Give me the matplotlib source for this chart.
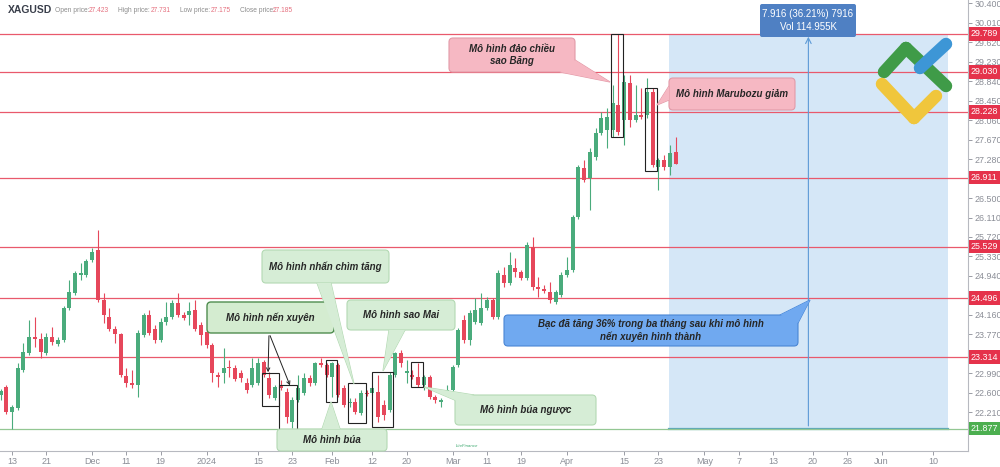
import numpy as np
import matplotlib.pyplot as plt
from matplotlib.patches import Rectangle, FancyBboxPatch, Polygon

plt.rcParams['font.family'] = ['Liberation Sans', 'DejaVu Sans']

# Nến ngày XAGUSD, chỉ số 0 = 13/11/2023 (bỏ cuối tuần)
idx = np.arange(-2, 117)
opens = [22.55, 22.71, 22.21, 22.29, 23.05, 23.40, 23.72, 23.68, 23.40, 23.72,
         23.58, 23.66, 24.30, 24.60, 24.96, 24.96, 25.26, 25.46, 24.46, 24.12,
         23.88, 23.78, 22.93, 22.79, 22.75, 23.76, 24.16, 23.88, 23.66, 24.02,
         24.12, 24.40, 24.16, 24.16, 24.26, 23.96, 23.82, 23.56, 22.95, 23.00,
         23.11, 23.09, 23.00, 22.79, 22.75, 22.79, 23.21, 22.89, 22.49, 22.73,
         22.61, 22.01, 22.45, 22.59, 22.89, 22.79, 23.19, 23.15, 22.91, 23.15,
         22.69, 22.39, 22.41, 22.19, 22.59, 22.59, 22.61, 22.35, 22.25, 22.95,
         23.40, 23.00, 22.95, 22.91, 22.75, 22.91, 22.51, 22.41, 22.61, 22.65,
         23.15, 24.06, 23.66, 24.02, 24.00, 24.30, 24.46, 24.12, 24.96, 24.80,
         25.10, 25.02, 24.90, 25.52, 24.72, 24.68, 24.62, 24.42, 24.56, 24.96,
         25.06, 26.12, 27.10, 26.90, 27.32, 27.80, 27.86, 27.86, 28.37, 28.06,
         28.81, 28.06, 28.16, 28.16, 28.63, 27.12, 27.26, 27.12, 27.423]
highs = [22.68, 22.75, 22.35, 23.19, 23.60, 24.06, 24.12, 23.80, 23.80, 23.92,
         23.72, 24.34, 24.86, 25.04, 25.20, 25.28, 25.50, 25.86, 24.60, 24.30,
         23.94, 23.80, 23.09, 23.05, 23.86, 24.20, 24.26, 23.96, 24.10, 24.42,
         24.46, 24.60, 24.22, 24.42, 24.46, 24.02, 23.88, 23.60, 23.01, 23.50,
         23.25, 23.15, 23.05, 22.89, 23.29, 23.29, 23.25, 23.01, 22.75, 22.85,
         22.69, 22.51, 22.95, 23.00, 22.95, 23.21, 23.29, 23.19, 23.21, 23.19,
         22.75, 22.49, 22.49, 22.65, 22.65, 22.73, 22.95, 22.45, 23.01, 23.42,
         23.46, 23.25, 23.05, 23.19, 22.95, 22.95, 22.55, 22.49, 22.75, 23.15,
         23.90, 24.16, 24.26, 24.50, 24.60, 24.52, 24.50, 25.06, 25.12, 25.42,
         25.30, 25.06, 25.62, 25.72, 24.92, 24.76, 24.82, 24.66, 25.02, 25.32,
         26.16, 27.16, 27.26, 27.50, 27.90, 28.22, 28.30, 28.77, 29.79, 28.97,
         28.97, 28.77, 28.71, 28.91, 28.71, 27.30, 27.36, 27.56, 27.731]
lows = [22.45, 22.17, 21.88, 22.25, 23.01, 23.36, 23.52, 23.30, 23.36, 23.56,
        23.54, 23.62, 24.26, 24.56, 24.86, 24.92, 25.22, 24.42, 24.00, 23.84,
        23.60, 22.91, 22.71, 22.69, 22.51, 23.72, 23.76, 23.60, 23.62, 23.96,
        24.08, 24.12, 24.06, 23.96, 23.84, 23.56, 23.50, 22.81, 22.71, 22.79,
        22.91, 22.83, 22.81, 22.59, 22.71, 22.75, 22.91, 22.49, 22.45, 22.65,
        21.99, 21.89, 22.41, 22.55, 22.73, 22.75, 23.11, 22.91, 22.51, 22.51,
        22.31, 22.31, 22.17, 22.15, 22.53, 22.55, 22.01, 22.05, 22.21, 22.91,
        23.11, 22.79, 22.87, 22.71, 22.65, 22.47, 22.39, 22.31, 22.55, 22.61,
        23.11, 23.60, 23.56, 23.98, 23.96, 24.26, 24.08, 24.08, 24.72, 24.76,
        24.92, 24.86, 24.86, 24.66, 24.52, 24.60, 24.40, 24.38, 24.52, 24.92,
        25.02, 26.08, 26.82, 26.26, 27.26, 27.76, 27.50, 27.72, 27.76, 27.56,
        27.92, 28.02, 28.08, 28.10, 27.12, 26.66, 27.06, 26.96, 27.175]
closes = [22.63, 22.21, 22.31, 23.09, 23.42, 23.72, 23.68, 23.42, 23.72, 23.62,
          23.66, 24.30, 24.62, 25.00, 25.00, 25.24, 25.42, 24.46, 24.16, 23.88,
          23.78, 22.95, 22.79, 22.75, 23.80, 24.16, 23.80, 23.66, 24.02, 24.12,
          24.40, 24.16, 24.10, 24.24, 23.88, 23.76, 23.56, 23.00, 22.91, 23.09,
          23.09, 22.87, 22.89, 22.65, 23.09, 23.19, 22.95, 22.55, 22.71, 22.69,
          22.11, 22.45, 22.69, 22.89, 22.79, 23.19, 23.15, 22.95, 23.19, 22.55,
          22.35, 22.41, 22.21, 22.59, 22.57, 22.69, 22.11, 22.15, 22.95, 23.40,
          23.19, 23.03, 22.91, 22.75, 22.91, 22.51, 22.45, 22.45, 22.65, 23.11,
          23.86, 23.66, 24.20, 24.26, 24.30, 24.46, 24.12, 25.00, 24.80, 25.16,
          25.02, 24.90, 25.56, 24.72, 24.68, 24.64, 24.46, 24.62, 24.96, 25.06,
          26.12, 27.12, 26.86, 27.42, 27.80, 28.10, 28.12, 28.41, 27.82, 28.83,
          28.06, 28.16, 28.12, 28.63, 27.16, 27.26, 27.12, 27.40, 27.185]

# nhãn trục thời gian
tick_idx = [0, 6, 14, 20, 26, 34, 43, 49, 56, 63, 69, 77, 83, 89, 97, 107, 113,
            121, 127, 133, 140, 146, 152, 161]
tick_lab = ['13', '21', 'Dec', '11', '19', '2024', '15', '23', 'Feb', '12', '20',
            'Mar', '11', '19', 'Apr', '15', '23', 'May', '7', '13', '20', '26',
            'Jun', '10']

# thang giá bên phải (các nhãn bị che bởi nhãn mức giá được bỏ)
price_ticks = [22.21, 22.60, 22.99, 23.77, 24.16, 24.94, 25.33, 25.72, 26.11,
               26.50, 27.28, 27.67, 28.06, 28.45, 28.84, 29.23, 29.62, 30.01, 30.40]

# các mức hỗ trợ / kháng cự
levels_red = [29.789, 29.030, 28.228, 26.911, 25.529, 24.496, 23.314]
level_green = 21.877

# hộp đánh dấu mô hình nến: (x0, x1, giá thấp, giá cao)
pattern_boxes = [(43.7, 46.7, 22.33, 22.99), (46.7, 49.8, 21.85, 22.75),
                 (54.9, 56.8, 22.41, 23.25), (58.7, 61.9, 21.99, 22.79),
                 (62.9, 66.6, 21.91, 23.01), (69.8, 71.9, 22.71, 23.21),
                 (104.7, 106.8, 27.72, 29.79), (110.7, 112.8, 27.04, 28.71)]

UP = '#4aab7c'
DOWN = '#e6475b'
LINE_RED = '#e9596c'
GREY = '#8a8d96'

fig = plt.figure(figsize=(10, 4.67), dpi=100)
ax = fig.add_axes([0, 16 / 467, 0.968, 451 / 467])
ax.set_xlim(-2.1, 167.1)
ax.set_ylim(21.43, 30.47)

# vùng dự phóng màu xanh
ax.add_patch(Rectangle((114.8, level_green), 163.6 - 114.8, levels_red[0] - level_green,
                       fc='#d5e7f7', ec='none', zorder=0))
ax.plot([114.8, 163.6], [level_green, level_green], color='#5ba7b9', lw=1.6, zorder=1)

for v in levels_red:
    ax.axhline(v, color=LINE_RED, lw=0.9, zorder=1)
ax.axhline(level_green, color='#93c793', lw=0.9, zorder=1)

# nến
o = np.array(opens); h = np.array(highs); l = np.array(lows); c = np.array(closes)
cols = np.where(c >= o, UP, DOWN)
ax.vlines(idx, l, h, colors=cols, lw=0.8, zorder=2)
ax.bar(idx, np.maximum(np.abs(c - o), 0.02), bottom=np.minimum(o, c), width=0.7,
       color=cols, zorder=3)

for x0, x1, y0, y1 in pattern_boxes:
    ax.add_patch(Rectangle((x0, y0), x1 - x0, y1 - y0, fill=False, ec='#222222',
                           lw=0.8, zorder=4))

# mũi tên đo
ax.annotate('', xy=(139.2, levels_red[0]), xytext=(139.2, level_green),
            arrowprops=dict(arrowstyle='->', color='#5d9ad6', lw=0.8), zorder=4)

# trục
for s in ['top', 'left']:
    ax.spines[s].set_visible(False)
for s in ['right', 'bottom']:
    ax.spines[s].set_color('#b7b9c0')
ax.yaxis.tick_right()
ax.set_yticks(price_ticks)
ax.set_yticklabels([f'{v:.3f}' for v in price_ticks])
ax.set_xticks(tick_idx)
ax.set_xticklabels(tick_lab)
ax.tick_params(axis='y', colors=GREY, labelsize=6.4, length=3, pad=1.5, width=0.6)
ax.tick_params(axis='x', colors=GREY, labelsize=6.5, length=3, pad=1.5, width=0.6)
ax.patch.set_alpha(0)

for v in levels_red + [level_green]:
    fc = '#4caf50' if v == level_green else '#e5324b'
    ax.annotate(f'{v:.3f}', xy=(1.0, v), xycoords=('axes fraction', 'data'),
                xytext=(2, 0), textcoords='offset points', ha='left', va='center',
                fontsize=6.4, color='white',
                bbox=dict(boxstyle='square,pad=0.25', fc=fc, ec='none'),
                zorder=10, annotation_clip=False)

# lớp chú thích (toạ độ pixel)
ov = fig.add_axes([0, 0, 1, 1])
ov.set_xlim(0, 1000)
ov.set_ylim(467, 0)
ov.axis('off')
ov.patch.set_alpha(0)

TXT = dict(fontsize=7.0, style='italic', fontweight='bold', family='Liberation Sans',
           color='#262626', ha='center', va='center', zorder=9, linespacing=1.25)


def callout(x0, y0, x1, y1, text, fc, ec, base=None, tip=None, lw=0.8, tc='#262626'):
    if tip is not None:
        ov.add_patch(Polygon([base[0], tip, base[1]], closed=True, fc=fc, ec=ec,
                             lw=lw, zorder=6))
    ov.add_patch(FancyBboxPatch((x0, y0), x1 - x0, y1 - y0,
                                boxstyle='round,pad=0,rounding_size=4',
                                fc=fc, ec=ec, lw=lw, zorder=7))
    if tip is not None:
        ov.add_patch(Polygon([base[0], tip, base[1]], closed=True, fc=fc, ec='none',
                             zorder=8))
    ov.text((x0 + x1) / 2, (y0 + y1) / 2, text, **{**TXT, 'color': tc})


PINK, PINK_E = '#f6b8c3', '#e29aa8'
LG, LG_E = '#d6edd6', '#b3d9b3'
callout(449, 38, 575, 72, 'Mô hình đảo chiều\nsao Băng', PINK, PINK_E,
        base=[(575, 60), (560, 72)], tip=(610, 82))
callout(669, 78, 795, 110, 'Mô hình Marubozu giảm', PINK, PINK_E,
        base=[(669, 86), (669, 100)], tip=(657, 105))
callout(262, 250, 389, 283, 'Mô hình nhấn chìm tăng', LG, LG_E,
        base=[(317, 283), (331, 283)], tip=(354, 384))
callout(347, 300, 455, 330, 'Mô hình sao Mai', LG, LG_E,
        base=[(389, 330), (405, 330)], tip=(383, 371))
callout(277, 429, 387, 451, 'Mô hình búa', LG, LG_E,
        base=[(322, 429), (340, 429)], tip=(331, 402))
callout(455, 395, 596, 425, 'Mô hình búa ngược', LG, LG_E,
        base=[(457, 401), (474, 395)], tip=(424, 387))
callout(504, 315, 798, 346, 'Bạc đã tăng 36% trong ba tháng sau khi mô hình\nnến xuyên hình thành',
        '#70a9f0', '#4a86d4', base=[(780, 315), (798, 323)], tip=(810, 300))
callout(207, 302, 334, 333, 'Mô hình nến xuyên', '#d4ecd0', '#4f8d4f', lw=1.0)
for end in [(268, 375), (291, 388)]:
    ov.annotate('', xy=end, xytext=(269, 333),
                arrowprops=dict(arrowstyle='->', color='#222222', lw=0.7,
                                mutation_scale=6), zorder=9)

# nhãn đo
ov.add_patch(FancyBboxPatch((760, 4), 96, 33, boxstyle='round,pad=0,rounding_size=2',
                            fc='#4f80c3', ec='none', zorder=7))
ov.text(808, 20.5, '7.916 (36.21%) 7916\nVol 114.955K', fontsize=7, color='white',
        ha='center', va='center', linespacing=1.3, zorder=9)

# tiêu đề
ov.text(8, 10, 'XAGUSD', fontsize=7.5, fontweight='bold', color='#3a3f4b', va='center')
hdr = [(55, 'Open price:', 89, '27.423'), (118, 'High price:', 151, '27.731'),
       (180, 'Low price:', 211, '27.175'), (240, 'Close price:', 273, '27.185')]
for x0, lab, x1, val in hdr:
    ov.text(x0, 10, lab, fontsize=4.8, color='#8c8c8c', va='center')
    ov.text(x1, 10, val, fontsize=4.8, color='#e5707f', va='center')

# logo
for (xa, ya), (xb, yb), col in [((884, 72), (906, 48), '#3f9b48'),
                                ((906, 48), (946, 86), '#3f9b48'),
                                ((920, 68), (946, 44), '#3d96d6'),
                                ((882, 84), (914, 118), '#f0c63c'),
                                ((914, 118), (936, 96), '#f0c63c')]:
    ov.plot([xa, xb], [ya, yb], color=col, lw=9, solid_capstyle='round', zorder=5)

ov.text(456, 446, 'LiteFinance', fontsize=3.2, color='#3aa76d', style='italic',
        va='center', zorder=9)

fig.savefig('out.png', dpi=100)
